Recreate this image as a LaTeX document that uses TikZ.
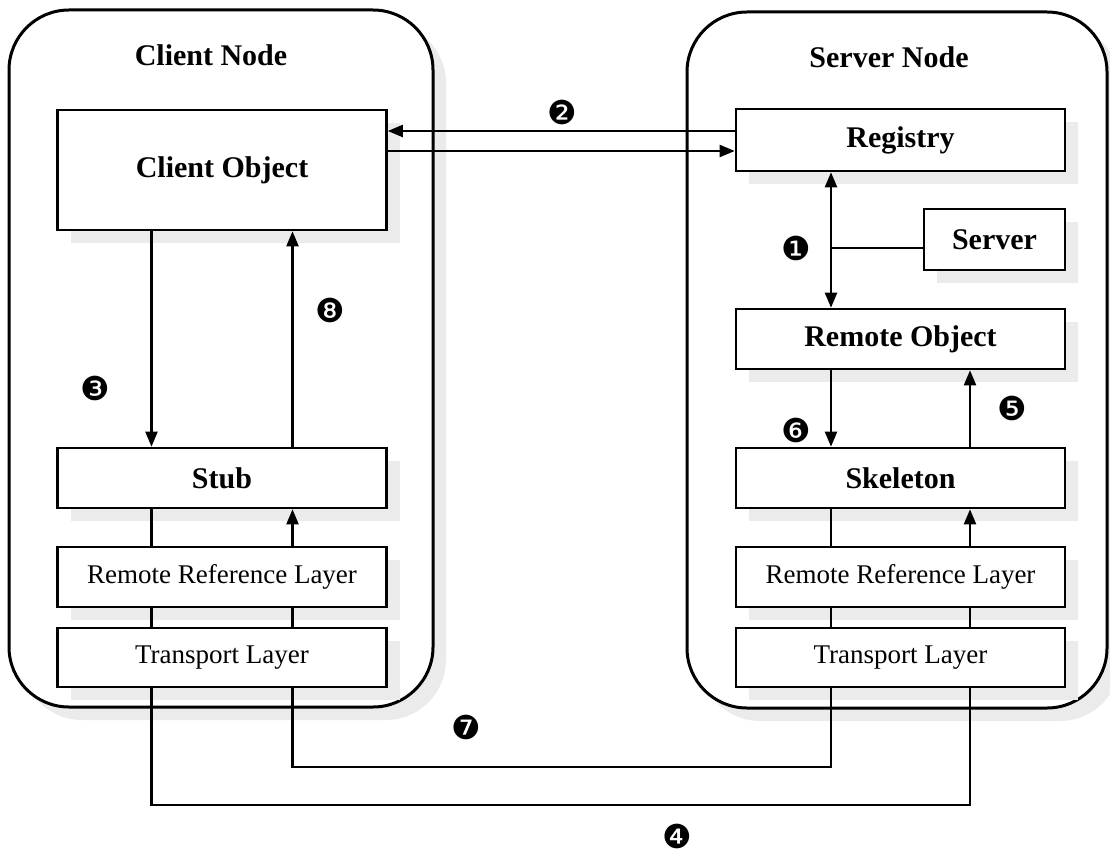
\documentclass[tikz,border=0pt]{standalone}
\usepackage{fontspec}
\setmainfont{Liberation Serif}
\newfontfamily\dingfont{DejaVu Sans}
\usetikzlibrary{arrows.meta,shadows}

\tikzset{
  shade/.style={drop shadow={shadow xshift=13pt,shadow yshift=-13pt,fill=black!8,opacity=1}},
  hostbox/.style={draw, line width=3pt, fill=white, rounded corners=60pt, shade, inner sep=0pt},
  box/.style={draw, line width=2.6pt, fill=white, shade, inner sep=0pt,
              minimum width=329pt, minimum height=60pt},
  boldlbl/.style={font=\fontsize{30}{32}\selectfont\bfseries},
  plainlbl/.style={font=\fontsize{27}{29}\selectfont},
  marker/.style={font=\dingfont\fontsize{33}{33}\selectfont, inner sep=0pt},
  wire/.style={line width=2.2pt},
  tip/.tip={Triangle[length=15pt,width=12pt]},
  arr/.style={wire, -tip},
}

\begin{document}
\begin{tikzpicture}[x=1pt,y=-1pt]
  \useasboundingbox (0,0) rectangle (1110,859);

  % the two hosts
  \node[hostbox, minimum width=424pt, minimum height=697pt] (clienthost) at (221,358.5) {};
  \node[hostbox, minimum width=420pt, minimum height=696pt] (serverhost) at (897,360) {};
  \node[boldlbl] (clientname) at (211,55) {Client Node};
  \node[boldlbl] (servername) at (889,57) {Server Node};

  % client side stack
  \node[box, boldlbl, minimum height=120pt] (cobj) at (222,170) {Client Object};
  \node[box, boldlbl] (stub) at (222,478) {Stub};
  \node[box, plainlbl] (crrl) at (222,577) {Remote Reference Layer};
  \node[box, plainlbl, minimum height=59pt] (ctl) at (222,657.5) {Transport Layer};

  % server side stack
  \node[box, boldlbl, minimum height=62pt] (reg) at (900.5,140) {Registry};
  \node[box, boldlbl, minimum width=141pt, minimum height=61pt] (srv) at (994.5,239.5) {Server};
  \node[box, boldlbl] (robj) at (900.5,339) {Remote Object};
  \node[box, boldlbl] (skel) at (900.5,478) {Skeleton};
  \node[box, plainlbl] (srrl) at (900.5,577) {Remote Reference Layer};
  \node[box, plainlbl, minimum height=59pt] (stl) at (900.5,657.5) {Transport Layer};

  % wire columns and return rows
  \coordinate (cl) at (151.5,0);
  \coordinate (cr) at (292.5,0);
  \coordinate (sl) at (831,0);
  \coordinate (sr) at (970,0);
  \coordinate (row7) at (0,767);
  \coordinate (row4) at (0,805);

  % lookup in the registry
  \draw[arr] ([yshift=9pt]reg.west) -- ([yshift=9pt]reg.west -| cobj.east);
  \draw[arr] ([yshift=-11pt]reg.west -| cobj.east) -- ([yshift=-11pt]reg.west);

  % binding of the remote object
  \draw[wire, tip-tip] (reg.south -| sl) -- (robj.north -| sl);
  \draw[wire] ([yshift=-8.5pt]srv.west) -- ([yshift=-8.5pt]srv.west -| sl);

  % client stack
  \draw[arr] (cobj.south -| cl) -- (stub.north -| cl);
  \draw[arr] (stub.north -| cr) -- (cobj.south -| cr);
  \draw[wire] (stub.south -| cl) -- (crrl.north -| cl);
  \draw[arr] (crrl.north -| cr) -- (stub.south -| cr);
  \draw[wire] (crrl.south -| cl) -- (ctl.north -| cl);
  \draw[wire] (crrl.south -| cr) -- (ctl.north -| cr);

  % server stack
  \draw[arr] (robj.south -| sl) -- (skel.north -| sl);
  \draw[arr] (skel.north -| sr) -- (robj.south -| sr);
  \draw[wire] (skel.south -| sl) -- (srrl.north -| sl);
  \draw[arr] (srrl.north -| sr) -- (skel.south -| sr);
  \draw[wire] (srrl.south -| sl) -- (stl.north -| sl);
  \draw[wire] (srrl.south -| sr) -- (stl.north -| sr);

  % transport links between the hosts
  \draw[wire] (ctl.south -| cr) -- (cr |- row7) -- (sl |- row7) -- (stl.south -| sl);
  \draw[wire] (ctl.south -| cl) -- (cl |- row4) -- (sr |- row4) -- (stl.south -| sr);

  % step numbers
  \node[marker] (m1) at (796,248) {❶};
  \node[marker] (m2) at (562,112) {❷};
  \node[marker] (m3) at (95,388) {❸};
  \node[marker] (m4) at (677,836) {❹};
  \node[marker] (m5) at (1012,408) {❺};
  \node[marker] (m6) at (796,430) {❻};
  \node[marker] (m7) at (466,727) {❼};
  \node[marker] (m8) at (330,310) {❽};
\end{tikzpicture}
\end{document}
